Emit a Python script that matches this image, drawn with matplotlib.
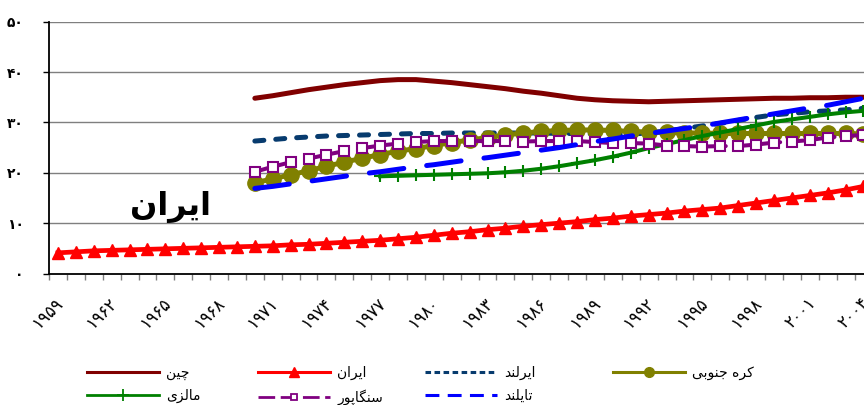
import numpy as np
import matplotlib
matplotlib.use("Agg")
import matplotlib.pyplot as plt
from matplotlib.lines import Line2D
from matplotlib.transforms import ScaledTranslation

plt.rcParams['font.family'] = ['DejaVu Sans']
plt.rcParams['lines.scale_dashes'] = False

# ---------------- data ----------------
years = list(range(1959, 2005))
label_years = years[::3]

china_start = 1970
china = [34.8, 35.3, 35.9, 36.5, 37.0, 37.5, 37.9, 38.3, 38.5, 38.5,
         38.2, 37.9, 37.5, 37.1, 36.7, 36.2, 35.8, 35.3, 34.8, 34.5,
         34.3, 34.2, 34.1, 34.2, 34.3, 34.4, 34.5, 34.6, 34.7, 34.8,
         34.8, 34.9, 34.9, 35.0, 35.0]

iran_start = 1959
iran = [4.1, 4.3, 4.5, 4.6, 4.7, 4.8, 4.9, 5.0, 5.1, 5.2,
        5.3, 5.4, 5.5, 5.7, 5.8, 6.0, 6.2, 6.4, 6.6, 6.9,
        7.2, 7.6, 8.0, 8.3, 8.7, 9.0, 9.4, 9.7, 10.0, 10.3,
        10.7, 11.0, 11.4, 11.7, 12.0, 12.4, 12.7, 13.0, 13.5, 14.0,
        14.5, 15.0, 15.5, 16.0, 16.6, 17.3]

ireland_start = 1970
ireland = [26.3, 26.6, 26.9, 27.1, 27.3, 27.4, 27.5, 27.6, 27.7, 27.8,
           27.8, 27.9, 27.9, 27.9, 27.9, 27.9, 27.9, 27.8, 27.8, 27.7,
           27.6, 27.7, 27.9, 28.3, 28.8, 29.3, 29.8, 30.4, 31.0, 31.5,
           31.8, 32.1, 32.3, 32.5, 32.8]

korea_start = 1970
korea = [18.0, 18.8, 19.6, 20.4, 21.3, 22.1, 22.9, 23.6, 24.3, 24.8,
         25.4, 26.0, 26.5, 27.0, 27.5, 27.9, 28.2, 28.4, 28.5, 28.5,
         28.4, 28.2, 28.1, 28.0, 27.9, 27.9, 27.8, 27.8, 27.8, 27.8,
         27.8, 27.8, 27.8, 27.8, 27.7]

malaysia_start = 1977
malaysia = [19.3, 19.4, 19.5, 19.6, 19.7, 19.8, 19.9, 20.1, 20.4, 20.8,
            21.3, 21.9, 22.5, 23.2, 24.0, 24.9, 25.7, 26.5, 27.3, 28.0,
            28.7, 29.4, 30.1, 30.6, 31.1, 31.6, 32.0, 32.3]

singapore_start = 1970
singapore = [20.2, 21.2, 22.1, 22.8, 23.6, 24.3, 24.9, 25.4, 25.8, 26.1,
             26.3, 26.3, 26.3, 26.3, 26.3, 26.2, 26.3, 26.3, 26.3, 26.1,
             25.9, 25.9, 25.8, 25.4, 25.3, 25.2, 25.3, 25.3, 25.6, 26.0,
             26.2, 26.5, 27.0, 27.3, 27.5]

thailand_start = 1970
thailand = [16.9, 17.3, 17.8, 18.3, 18.8, 19.3, 19.8, 20.2, 20.7, 21.2,
            21.6, 22.1, 22.6, 23.0, 23.5, 24.0, 24.5, 25.0, 25.6, 26.2,
            26.7, 27.3, 27.8, 28.3, 28.8, 29.3, 29.9, 30.5, 31.1, 31.7,
            32.3, 32.9, 33.4, 34.1, 34.8]

names = {
    'china': 'چین', 'iran': 'ایران', 'ireland': 'ایرلند', 'korea': 'کره جنوبی',
    'malaysia': 'مالزی', 'singapore': 'سنگاپور', 'thailand': 'تایلند',
}
yticks = [0, 10, 20, 30, 40, 50]

# ---------------- Persian shaping helper ----------------
FORMS = {  # isolated, final, initial, medial
    'ا': ('\uFE8D', '\uFE8E', None, None),
    'ب': ('\uFE8F', '\uFE90', '\uFE91', '\uFE92'),
    'پ': ('\uFB56', '\uFB57', '\uFB58', '\uFB59'),
    'ت': ('\uFE95', '\uFE96', '\uFE97', '\uFE98'),
    'ج': ('\uFE9D', '\uFE9E', '\uFE9F', '\uFEA0'),
    'چ': ('\uFB7A', '\uFB7B', '\uFB7C', '\uFB7D'),
    'د': ('\uFEA9', '\uFEAA', None, None),
    'ر': ('\uFEAD', '\uFEAE', None, None),
    'ز': ('\uFEAF', '\uFEB0', None, None),
    'س': ('\uFEB1', '\uFEB2', '\uFEB3', '\uFEB4'),
    'ک': ('\uFB8E', '\uFB8F', '\uFB90', '\uFB91'),
    'گ': ('\uFB92', '\uFB93', '\uFB94', '\uFB95'),
    'ل': ('\uFEDD', '\uFEDE', '\uFEDF', '\uFEE0'),
    'م': ('\uFEE1', '\uFEE2', '\uFEE3', '\uFEE4'),
    'ن': ('\uFEE5', '\uFEE6', '\uFEE7', '\uFEE8'),
    'ه': ('\uFEE9', '\uFEEA', '\uFEEB', '\uFEEC'),
    'و': ('\uFEED', '\uFEEE', None, None),
    'ی': ('\uFBFC', '\uFBFD', '\uFBFE', '\uFBFF'),
}


def shape(s):
    out = []
    for i, ch in enumerate(s):
        if ch not in FORMS:
            out.append(ch)
            continue
        f = FORMS[ch]
        prev = s[i - 1] if i > 0 else None
        nxt = s[i + 1] if i + 1 < len(s) else None
        jp = prev in FORMS and FORMS[prev][2] is not None
        jn = f[2] is not None and nxt in FORMS
        if jp and jn:
            out.append(f[3])
        elif jp:
            out.append(f[1])
        elif jn:
            out.append(f[2])
        else:
            out.append(f[0])
    return ''.join(reversed(out))


FA_DIGITS = str.maketrans('0123456789', '۰۱۲۳۴۵۶۷۸۹')


def fa(n):
    return str(n).translate(FA_DIGITS)


def xpos(start, vals):
    return np.arange(len(vals)) + (start - years[0])


# ---------------- figure ----------------
W, H = 864, 405
fig = plt.figure(figsize=(W / 100, H / 100), dpi=100)
ncat = len(years)
cat_px = 17.9
left_px, bottom_px, top_px = 49, 273.5, 21.7
ax = fig.add_axes([left_px / W, 1 - bottom_px / H,
                   ncat * cat_px / W, (bottom_px - top_px) / H])

ax.set_xlim(-0.5, ncat - 0.5)
ax.set_ylim(0, 50)

for y in yticks[1:]:
    ax.axhline(y, color='#7f7f7f', lw=1.0, zorder=0)

C_CHINA, C_IRAN, C_IRL = '#800000', '#ff0000', '#073b6e'
C_KOR, C_MAL, C_SIN, C_THA = '#808000', '#008000', '#800080', '#0000ff'

ax.plot(xpos(china_start, china), china, color=C_CHINA, lw=3.6,
        solid_capstyle='round', zorder=3)
ax.plot(xpos(iran_start, iran), iran, color=C_IRAN, lw=3.4, marker='^',
        ms=9, mec=C_IRAN, mfc=C_IRAN, zorder=4)
ax.plot(xpos(ireland_start, ireland), ireland, color=C_IRL, lw=3.6,
        linestyle=(0, (6.5, 8.6)), dash_capstyle='round', zorder=5)
ax.plot(xpos(korea_start, korea), korea, color=C_KOR, lw=3.6, marker='o',
        ms=11, mec=C_KOR, mfc=C_KOR, zorder=6)
ax.plot(xpos(malaysia_start, malaysia), malaysia, color=C_MAL, lw=2.9,
        marker='+', ms=9, mew=1.5, mec=C_MAL, zorder=7)
ax.plot(xpos(singapore_start, singapore), singapore, color=C_SIN, lw=2.9,
        linestyle=(0, (27, 12.3)), dash_capstyle='round', marker='s', ms=6.5,
        mfc='white', mec=C_SIN, mew=1.5, zorder=8)
ax.plot(xpos(thailand_start, thailand), thailand, color=C_THA, lw=3.6,
        linestyle=(0, (25, 16.6)), dash_capstyle='round', zorder=9)

# annotation
ax.text(6.3, 13.3, shape(names['iran']), fontsize=23,
        fontweight='bold', ha='center', va='center', color='black', zorder=10)

# axes styling
for s in ['top', 'right']:
    ax.spines[s].set_visible(False)
ax.spines['left'].set_linewidth(1.3)
ax.spines['bottom'].set_linewidth(1.3)
ax.spines['left'].set_zorder(11)
ax.spines['bottom'].set_zorder(11)

ax.set_yticks(yticks)
ax.set_yticklabels([fa(v) for v in yticks], fontweight='bold', fontsize=10)
ax.tick_params(axis='y', length=4.3, width=1, color='black', pad=14)

label_pos = [years.index(y) for y in label_years]
ax.set_xticks(label_pos)
ax.set_xticklabels([fa(y) for y in label_years], rotation=45, ha='right',
                   va='center', rotation_mode='anchor', fontsize=12)
ax.tick_params(axis='x', which='major', length=0, pad=19)
shift = ScaledTranslation(3 / 100, 0, fig.dpi_scale_trans)
for lbl in ax.get_xticklabels():
    lbl.set_transform(lbl.get_transform() + shift)
ax.set_xticks(np.arange(-0.5, ncat, 1.0), minor=True)
ax.tick_params(axis='x', which='minor', length=4.5, width=1, color='#808080')

# legend: four columns placed individually
def h(color, **kw):
    return Line2D([], [], color=color, **kw)

cols = [
    [(h(C_CHINA, lw=2.2), names['china']),
     (h(C_MAL, lw=2.0, marker='+', ms=8, mew=1.3), names['malaysia'])],
    [(h(C_IRAN, lw=2.2, marker='^', ms=7), names['iran']),
     (h(C_SIN, lw=2.0, linestyle=(0, (12, 4)), marker='s', ms=5, mfc='white',
        mew=1.3), names['singapore'])],
    [(h(C_IRL, lw=2.2, linestyle=(0, (4, 2.5))), names['ireland']),
     (h(C_THA, lw=2.2, linestyle=(0, (10, 6))), names['thailand'])],
    [(h(C_KOR, lw=2.2, marker='o', ms=7), names['korea'])],
]
col_x = [87, 258, 425, 613]
for cx, col in zip(col_x, cols):
    leg = fig.legend([c[0] for c in col], [shape(c[1]) for c in col],
                     loc='upper left', bbox_to_anchor=(cx / W, 1 - 366 / H),
                     frameon=False, fontsize=10, handlelength=5.2,
                     handletextpad=0.5, labelspacing=0.65, borderpad=0,
                     borderaxespad=0, numpoints=1)

fig.savefig('out.png', dpi=100)
